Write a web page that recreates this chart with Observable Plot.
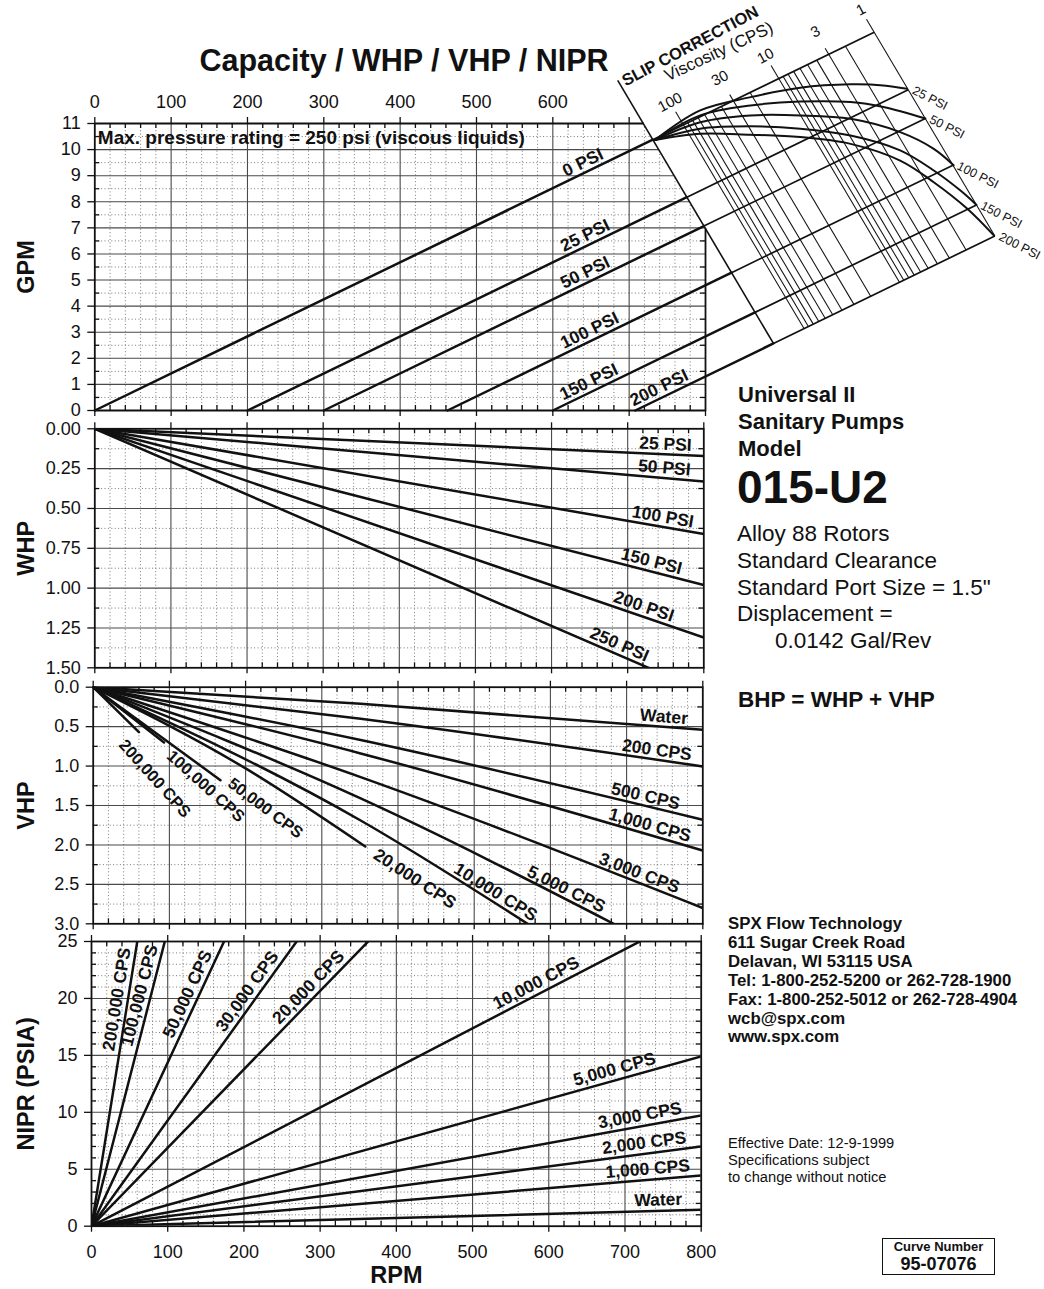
<!DOCTYPE html>
<html>
<head>
<meta charset="utf-8">
<title>Universal II 015-U2 performance curve</title>
<script src="https://cdn.jsdelivr.net/npm/d3@7"></script>
<script src="https://cdn.jsdelivr.net/npm/@observablehq/plot@0.6"></script>
<style>
  html, body { margin: 0; padding: 0; background: #fff; }
  #sheet { position: relative; width: 1044px; height: 1289px; overflow: hidden; background: #fff;
           font-family: "Liberation Sans", Arial, Helvetica, sans-serif; color: #111; }
  #sheet svg { position: absolute; left: 0; top: 0; }
  .note { position: absolute; white-space: nowrap; line-height: 1; }
  .box { position: absolute; border: 1.6px solid #111; box-sizing: border-box; font-weight: 700; }
  .box div { position: absolute; left: 0; right: 0; text-align: center; line-height: 1.117; white-space: nowrap; }
</style>
</head>
<body>
<div id="sheet"></div>
<script>
const FONT = '"Liberation Sans", Arial, Helvetica, sans-serif';
const INK = "#111";
const W = 1044, H = 1289;

// ---------------- data ----------------
const rpmTicks = [0, 100, 200, 300, 400, 500, 600, 700, 800];
const rpmMinor = d3.range(0, 801, 20).filter(r => r % 100 !== 0);

const displacement = 0.0142; // gal/rev

// Capacity: straight lines of slope = displacement, offset by the slip at each pressure
const capacityNames = ["0 PSI", "25 PSI", "50 PSI", "100 PSI", "150 PSI", "200 PSI"];
const capacitySlipRpm = [0, 200, 300, 462, 600, 708];

// Water horsepower at 800 RPM
const whpNames = ["25 PSI", "50 PSI", "100 PSI", "150 PSI", "200 PSI", "250 PSI"];
const whpAt800 = [0.17, 0.33, 0.66, 0.98, 1.31, 1.65];

// Viscous horsepower, read as [rpm, hp] points along each curve
const vhpNames = ["Water", "200 CPS", "500 CPS", "1,000 CPS", "3,000 CPS", "5,000 CPS",
                  "10,000 CPS", "20,000 CPS", "50,000 CPS", "100,000 CPS", "200,000 CPS"];
const vhpPoints = [
  [[0, 0], [351, 0.21], [800, 0.54]],
  [[0, 0], [351, 0.40], [800, 1.005]],
  [[0, 0], [351, 0.67], [800, 1.68]],
  [[0, 0], [351, 0.84], [800, 2.07]],
  [[0, 0], [351, 1.14], [800, 2.80]],
  [[0, 0], [351, 1.41], [683, 3.0]],
  [[0, 0], [351, 1.69], [570, 3.0]],
  [[0, 0], [200, 1.03], [357, 2.02]],
  [[0, 0], [167, 1.18]],
  [[0, 0], [93, 0.70]],
  [[0, 0], [60, 0.57]]
];

// Net inlet pressure required at 800 RPM
const niprNames = ["200,000 CPS", "100,000 CPS", "50,000 CPS", "30,000 CPS", "20,000 CPS",
                   "10,000 CPS", "5,000 CPS", "3,000 CPS", "2,000 CPS", "1,000 CPS", "Water"];
const niprAt800 = [333, 208, 115, 74.3, 55.1, 27.8, 14.9, 9.72, 7.0, 4.45, 1.44];

// Slip-correction nomogram (RPM / GPM coordinates of the capacity chart)
const viscosityGrid = [100, 90, 80, 70, 60, 50, 40, 30, 20, 10, 9, 8, 7, 6, 5, 4, 3, 2, 1];
const viscosityMajor = [100, 10, 1];
const viscosityHalf = [30, 3];
const slipAxis = [[685, 12.65], [889, 2.57]];
const slipStart = [734, 10.37];
const slipNames = ["25 PSI", "50 PSI", "100 PSI", "150 PSI", "200 PSI"];
const slipCurves = [
  [[793, 11.50], [859, 12.01], [924, 12.37], [990, 12.50], [1033, 12.46], [1064, 12.33]],
  [[793, 11.31], [859, 11.69], [924, 11.84], [990, 11.82], [1033, 11.63], [1088, 11.19]],
  [[793, 11.05], [859, 11.31], [924, 11.31], [990, 11.18], [1055, 10.67], [1099, 10.03], [1125, 9.40]],
  [[793, 10.80], [859, 10.89], [924, 10.80], [990, 10.54], [1055, 9.97], [1099, 9.20], [1134, 8.43], [1155, 7.88]],
  [[793, 10.61], [859, 10.57], [924, 10.48], [990, 10.22], [1055, 9.58], [1099, 8.75], [1143, 7.73], [1178, 6.70]]
];

// ---------------- layout ----------------
const layout = {
  gpm:  {left: 94.3, right: 705,   top: 123,   bottom: 410,    domain: [0, 11],  reverse: false,
         major: d3.range(0, 11.01, 1), minor: d3.range(0.5, 11, 1), fmt: d3.format("d"), title: "GPM"},
  whp:  {left: 94.3, right: 703.3, top: 428.3, bottom: 667.3,  domain: [0, 1.5], reverse: true,
         major: d3.range(0, 1.51, 0.25), minor: d3.range(0.125, 1.5, 0.25), fmt: d3.format(".2f"), title: "WHP"},
  vhp:  {left: 92.7, right: 702.3, top: 686.7, bottom: 923.3,  domain: [0, 3],   reverse: true,
         major: d3.range(0, 3.01, 0.5), minor: d3.range(0.25, 3, 0.5), fmt: d3.format(".1f"), title: "VHP"},
  nipr: {left: 91,   right: 700.7, top: 941,   bottom: 1225.7, domain: [0, 25],  reverse: false,
         major: d3.range(0, 25.01, 5), minor: d3.range(1, 25, 1).filter(v => v % 5 !== 0), fmt: d3.format("d"), title: "NIPR (PSIA)"}
};
const tickFont = 18;
const labelFont = 17.5;

function panel(p) {
  const [lo, hi] = p.domain;
  const unitPx = (p.bottom - p.top) / (hi - lo);
  const pxPerRpm = (p.right - p.left) / 800;
  const sgn = p.reverse ? -1 : 1;
  return {...p, lo, hi, unitPx, pxPerRpm, sgn,
    topVal: p.reverse ? lo : hi, botVal: p.reverse ? hi : lo,
    up: (v, px) => v + sgn * px / unitPx,
    rpmPx: px => px / pxPerRpm};
}

// linear interpolation along a polyline, extended past its ends
function interp(pts, r) {
  let i = 1;
  while (i < pts.length - 1 && pts[i][0] < r) i++;
  const [r0, v0] = pts[i - 1], [r1, v1] = pts[i];
  return v0 + (v1 - v0) * (r - r0) / (r1 - r0);
}

const dotted = {stroke: "#6a6a6a", strokeWidth: 0.9, strokeDasharray: "1 2.4"};
const solid = {stroke: "#4a4a4a", strokeWidth: 1.1};
const edge = {stroke: INK, strokeWidth: 1.3};

function gridMarks(P, opts = {}) {
  const topAt = opts.topAt || (() => P.topVal);
  const rightAt = opts.rightAt || (() => 800);
  const topOpen = r => topAt(r) === P.topVal;
  const rightOpen = v => rightAt(v) === 800;
  const inner = P.major.filter(v => v !== P.lo && v !== P.hi);
  return [
    Plot.ruleX(rpmMinor, {x: d => d, y1: P.botVal, y2: d => topAt(d), ...dotted}),
    Plot.ruleY(P.minor, {y: d => d, x1: 0, x2: d => rightAt(d), ...dotted}),
    Plot.ruleX(rpmTicks.slice(1, -1), {x: d => d, y1: P.botVal, y2: d => topAt(d), ...solid}),
    Plot.ruleY(inner, {y: d => d, x1: 0, x2: d => rightAt(d), ...solid}),
    // major ticks poking out of the frame
    Plot.ruleX(rpmTicks, {x: d => d, y1: P.botVal, y2: P.up(P.botVal, -6), ...edge}),
    Plot.ruleX(rpmTicks.filter(topOpen), {x: d => d, y1: P.topVal, y2: P.up(P.topVal, 6), ...edge}),
    Plot.ruleY(P.major, {y: d => d, x1: -P.rpmPx(7), x2: 0, ...edge}),
    // minor ticks inside the frame
    Plot.ruleX(rpmMinor, {x: d => d, y1: P.botVal, y2: P.up(P.botVal, 5), ...edge}),
    Plot.ruleX(rpmMinor.filter(topOpen), {x: d => d, y1: P.topVal, y2: P.up(P.topVal, -5), ...edge}),
    Plot.ruleY(P.minor, {y: d => d, x1: 0, x2: P.rpmPx(5), ...edge}),
    Plot.ruleY(P.minor.filter(rightOpen), {y: d => d, x1: 800 - P.rpmPx(5), x2: 800, ...edge}),
    // tick labels and axis title
    Plot.text(P.major, {x: 0, y: d => d, text: d => P.fmt(d), dx: -14, textAnchor: "end",
      lineAnchor: "middle", fontSize: tickFont, fill: INK}),
    Plot.text([P.title], {frameAnchor: "left", dx: -(P.left - 26), rotate: -90, text: d => d,
      textAnchor: "middle", lineAnchor: "middle", fontSize: 23.5, fontWeight: "bold", fill: INK})
  ];
}

// label set parallel to a curve at the given rpm, pushed `gap` px off it (negative = below)
function lineLabel(P, pts, rpm, text, o = {}) {
  const {gap = 10, size = labelFont, weight = "bold", angle} = o;
  const v = interp(pts, rpm);
  const h = 4;
  const sx = 2 * h * P.pxPerRpm;
  const sy = -(interp(pts, rpm + h) - interp(pts, rpm - h)) * P.unitPx * P.sgn;
  const a = angle !== undefined ? angle * Math.PI / 180 : Math.atan2(sy, sx);
  const n = Math.atan2(sy, sx);
  return Plot.text([{rpm, v, text}], {x: "rpm", y: "v", text: "text", rotate: a * 180 / Math.PI,
    dx: gap * Math.sin(n), dy: -gap * Math.cos(n), fontSize: size, fontWeight: weight, fill: INK,
    textAnchor: "middle", lineAnchor: "middle"});
}

function draw(P, marks) {
  return Plot.plot({
    width: W, height: H,
    marginLeft: P.left, marginRight: W - P.right, marginTop: P.top, marginBottom: H - P.bottom,
    x: {domain: [0, 800], axis: null},
    y: {domain: P.domain, reverse: P.reverse, axis: null},
    style: {background: "transparent", fontFamily: FONT, overflow: "visible", color: INK},
    marks
  });
}

const sheet = document.getElementById("sheet");
const heavy = {stroke: INK, strokeWidth: 2.5, strokeLinecap: "round"};

// ---------- capacity + slip correction ----------
{
  const P = panel(layout.gpm);
  const k = (slipAxis[1][1] - slipAxis[0][1]) / (slipAxis[1][0] - slipAxis[0][0]);
  const axisG = r => slipAxis[0][1] + k * (r - slipAxis[0][0]);
  const axisR = g => slipAxis[0][0] + (g - slipAxis[0][1]) / k;
  const topAt = r => Math.min(P.hi, axisG(r));
  const rightAt = g => Math.min(800, axisR(g));
  // a line of slope k through (r0, g0) meets the capacity line with the given slip
  const meet = (r0, g0, slip) => {
    const r = (g0 - k * r0 + displacement * slip) / (displacement - k);
    return [r, displacement * (r - slip)];
  };
  const visc = d3.scaleLog().domain([100, 1]).range([771, 1021]);
  const onZero = v => [visc(v), displacement * visc(v)];
  const last = capacitySlipRpm[capacitySlipRpm.length - 1];

  const viscLines = viscosityGrid.map(v => {
    const [r0, g0] = onZero(v);
    const ext = viscosityMajor.includes(v) ? 0.5 : viscosityHalf.includes(v) ? 0.23 : 0;
    return {v, a: [r0 + ext / k, g0 + ext], b: meet(r0, g0, last)};
  });
  const [r1, g1] = onZero(1);
  const capLines = capacityNames.map((name, i) => {
    const s = capacitySlipRpm[i];
    return {name, start: [s, 0], cross: meet(slipAxis[0][0], slipAxis[0][1], s), end: meet(r1, g1, s)};
  });
  const curveRows = slipCurves.flatMap((pts, i) =>
    [slipStart, ...pts].map(([r, g]) => ({name: slipNames[i], r, g})));

  const labelRpm = [645, 648, 648, 654, 653, 745];
  const marks = [
    ...gridMarks(P, {topAt, rightAt}),
    // frame, cut by the slip-correction axis
    Plot.line([[0, 0], [0, P.hi], [axisR(P.hi), P.hi]], {x: "0", y: "1", stroke: INK, strokeWidth: 1.8}),
    Plot.line([[800, axisG(800)], [800, 0], [0, 0]], {x: "0", y: "1", stroke: INK, strokeWidth: 1.8}),
    // nomogram grid
    Plot.link(viscLines, {x1: d => d.a[0], y1: d => d.a[1], x2: d => d.b[0], y2: d => d.b[1], stroke: INK, strokeWidth: 1.05}),
    Plot.link([0], {x1: slipAxis[0][0], y1: slipAxis[0][1], x2: slipAxis[1][0], y2: slipAxis[1][1], stroke: INK, strokeWidth: 1.6}),
    Plot.link(capLines, {x1: d => d.cross[0], y1: d => d.cross[1], x2: d => d.end[0], y2: d => d.end[1], stroke: INK, strokeWidth: 1.7}),
    Plot.line(curveRows, {x: "r", y: "g", z: "name", curve: "catmull-rom", stroke: INK, strokeWidth: 2}),
    // capacity lines
    Plot.link(capLines, {x1: d => d.start[0], y1: d => d.start[1], x2: d => d.cross[0], y2: d => d.cross[1], ...heavy}),
    // labels
    ...capLines.map((d, i) => lineLabel(P, [d.start, d.end], labelRpm[i], d.name, {gap: 10})),
    Plot.text(viscosityMajor.concat(viscosityHalf), {
      x: v => onZero(v)[0] + 0.86 / k, y: v => onZero(v)[1] + 0.86, text: v => String(v),
      rotate: -28, fontSize: 15, fill: INK}),
    Plot.text(capLines.slice(1), {x: d => d.end[0], y: d => d.end[1], text: d => d.name,
      textAnchor: "start", dx: 5, rotate: 27, fontSize: 12.5, fill: INK}),
    Plot.text(["SLIP CORRECTION"], {x: slipAxis[0][0], y: slipAxis[0][1], text: d => d,
      textAnchor: "start", lineAnchor: "bottom", dx: 8, dy: 6, rotate: -28, fontSize: 16.5, fontWeight: "bold", fill: INK}),
    Plot.text(["Viscosity (CPS)"], {x: slipAxis[0][0], y: slipAxis[0][1], text: d => d,
      textAnchor: "start", lineAnchor: "bottom", dx: 50, dy: 1, rotate: -25, fontSize: 17, fill: INK}),
    Plot.text(["Max. pressure rating = 250 psi (viscous liquids)"], {frameAnchor: "top-left", text: d => d,
      textAnchor: "start", lineAnchor: "middle", dx: 3, dy: 14, fontSize: 19, fontWeight: "bold", fill: INK}),
    Plot.text(rpmTicks.filter(r => r <= 600), {x: d => d, y: P.topVal, text: d => String(d), dy: -21,
      lineAnchor: "middle", fontSize: tickFont, fill: INK})
  ];
  sheet.appendChild(draw(P, marks));
}

// ---------- water horsepower ----------
{
  const P = panel(layout.whp);
  const rows = whpNames.flatMap((name, i) => [{name, r: 0, v: 0}, {name, r: 800, v: whpAt800[i]}]);
  const labelRpm = [749, 747, 744, 728, 717, 684];
  sheet.appendChild(draw(P, [
    ...gridMarks(P),
    Plot.line(rows, {x: "r", y: "v", z: "name", clip: true, ...heavy}),
    Plot.frame({stroke: INK, strokeWidth: 1.8}),
    ...whpNames.map((name, i) => lineLabel(P, [[0, 0], [800, whpAt800[i]]], labelRpm[i], name, {gap: 10}))
  ]));
}

// ---------- viscous horsepower ----------
{
  const P = panel(layout.vhp);
  const rows = vhpNames.flatMap((name, i) => vhpPoints[i].map(([r, v]) => ({name, r, v})));
  const labels = [
    {rpm: 748, gap: 10}, {rpm: 738, gap: 10}, {rpm: 722, gap: 10}, {rpm: 727, gap: 10},
    {rpm: 712, gap: 10}, {rpm: 615, gap: 10}, {rpm: 521, gap: 10}, {rpm: 422, gap: 0},
    {rpm: 223, gap: 4, angle: 37}, {rpm: 155, gap: -9, angle: 42}, {rpm: 101, gap: -22, angle: 48}
  ];
  sheet.appendChild(draw(P, [
    ...gridMarks(P),
    Plot.line(rows, {x: "r", y: "v", z: "name", curve: "monotone-x", clip: true, ...heavy}),
    Plot.frame({stroke: INK, strokeWidth: 1.8}),
    ...vhpNames.map((name, i) => lineLabel(P, vhpPoints[i], labels[i].rpm, name,
      {gap: labels[i].gap, angle: labels[i].angle, size: i > 7 ? 16.5 : labelFont}))
  ]));
}

// ---------- net inlet pressure required ----------
{
  const P = panel(layout.nipr);
  const rows = niprNames.flatMap((name, i) => [{name, r: 0, v: 0}, {name, r: 800, v: niprAt800[i]}]);
  const labelRpm = [47.5, 77, 139, 216, 295, 590, 690, 722, 727, 731, 744];
  sheet.appendChild(draw(P, [
    ...gridMarks(P),
    Plot.line(rows, {x: "r", y: "v", z: "name", clip: true, ...heavy}),
    Plot.frame({stroke: INK, strokeWidth: 1.8}),
    ...niprNames.map((name, i) => lineLabel(P, [[0, 0], [800, niprAt800[i]]], labelRpm[i], name, {gap: 11})),
    Plot.text(rpmTicks, {x: d => d, y: P.botVal, text: d => String(d), dy: 26, lineAnchor: "middle", fontSize: tickFont, fill: INK}),
    Plot.text(["RPM"], {frameAnchor: "bottom", dy: 49, text: d => d, textAnchor: "middle", lineAnchor: "middle",
      fontSize: 23.5, fontWeight: "bold", fill: INK})
  ]));
}

// ---------- sheet text ----------
const notes = [
  ["Capacity / WHP / VHP / NIPR", 404, 60, 30.5, 700, "middle"],
  ["Universal II", 738, 395, 22, 700],
  ["Sanitary Pumps", 738, 422, 22, 700],
  ["Model", 738, 449, 22, 700],
  ["015-U2", 737, 487, 46, 700],
  ["Alloy 88 Rotors", 737, 534, 22.5, 400],
  ["Standard Clearance", 737, 561, 22.5, 400],
  ["Standard Port Size = 1.5\"", 737, 588, 22.5, 400],
  ["Displacement =", 737, 614, 22.5, 400],
  ["0.0142 Gal/Rev", 775, 641, 22.5, 400],
  ["BHP = WHP + VHP", 738, 700, 22.5, 700],
  ["SPX Flow Technology", 728, 924, 16.8, 700],
  ["611 Sugar Creek Road", 728, 943.3, 16.8, 700],
  ["Delavan, WI 53115 USA", 728, 962.5, 16.8, 700],
  ["Tel: 1-800-252-5200 or 262-728-1900", 728, 981, 16.8, 700],
  ["Fax: 1-800-252-5012 or 262-728-4904", 728, 1000, 16.8, 700],
  ["wcb@spx.com", 728, 1019, 16.8, 700],
  ["www.spx.com", 728, 1037.7, 16.8, 700],
  ["Effective Date: 12-9-1999", 728, 1143, 14.7, 400],
  ["Specifications subject", 728, 1160, 14.7, 400],
  ["to change without notice", 728, 1177, 14.7, 400]
];
for (const [text, x, y, size, weight, anchor] of notes) {
  const el = document.createElement("div");
  el.className = "note";
  el.textContent = text;
  el.style.left = x + "px";
  el.style.top = (y - 0.49 * size) + "px";
  el.style.fontSize = size + "px";
  el.style.fontWeight = weight;
  if (anchor === "middle") el.style.transform = "translateX(-50%)";
  sheet.appendChild(el);
}
const box = document.createElement("div");
box.className = "box";
Object.assign(box.style, {left: "882px", top: "1238px", width: "113px", height: "37px"});
box.innerHTML = '<div style="top:0.5px;font-size:13px">Curve Number</div>' +
                '<div style="top:15.2px;font-size:18px">95-07076</div>';
sheet.appendChild(box);
</script>
</body>
</html>
